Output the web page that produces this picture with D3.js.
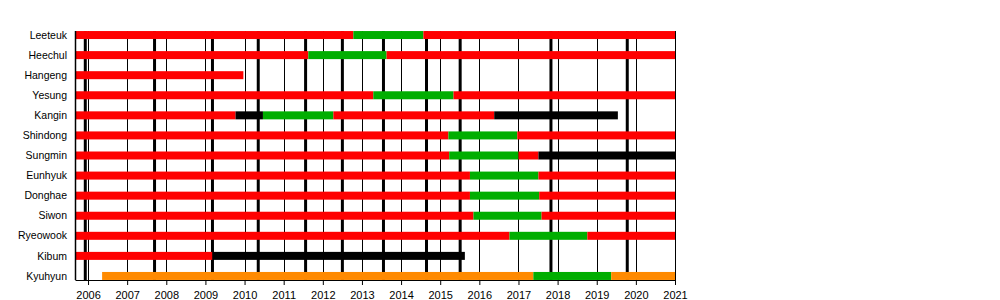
<!DOCTYPE html>
<html>
<head>
<meta charset="utf-8">
<script src="https://d3js.org/d3.v7.min.js"></script>
<style>
  body { margin: 0; background: #fff; }
  svg { font-family: "Liberation Sans", Arial, sans-serif; }
</style>
</head>
<body>
<svg id="chart"></svg>
<script>
// members, top to bottom
var members = ["Leeteuk", "Heechul", "Hangeng", "Yesung", "Kangin", "Shindong", "Sungmin",
  "Eunhyuk", "Donghae", "Siwon", "Ryeowook", "Kibum", "Kyuhyun"];

// activity periods in decimal years: [member, start, end, status]
var periods = [
  ["Leeteuk", 2005.68, 2012.78, "active"], ["Leeteuk", 2012.78, 2014.57, "service"], ["Leeteuk", 2014.57, 2021, "active"],
  ["Heechul", 2005.68, 2011.63, "active"], ["Heechul", 2011.63, 2013.63, "service"], ["Heechul", 2013.63, 2021, "active"],
  ["Hangeng", 2005.68, 2009.97, "active"],
  ["Yesung", 2005.68, 2013.29, "active"], ["Yesung", 2013.29, 2015.34, "service"], ["Yesung", 2015.34, 2021, "active"],
  ["Kangin", 2005.68, 2009.77, "active"], ["Kangin", 2009.77, 2010.47, "hiatus"], ["Kangin", 2010.47, 2012.27, "service"],
  ["Kangin", 2012.27, 2016.38, "active"], ["Kangin", 2016.38, 2019.54, "hiatus"],
  ["Shindong", 2005.68, 2015.21, "active"], ["Shindong", 2015.21, 2016.97, "service"], ["Shindong", 2016.97, 2021, "active"],
  ["Sungmin", 2005.68, 2015.23, "active"], ["Sungmin", 2015.23, 2017.0, "service"], ["Sungmin", 2017.0, 2017.51, "active"],
  ["Sungmin", 2017.51, 2021, "hiatus"],
  ["Eunhyuk", 2005.68, 2015.76, "active"], ["Eunhyuk", 2015.76, 2017.51, "service"], ["Eunhyuk", 2017.51, 2021, "active"],
  ["Donghae", 2005.68, 2015.76, "active"], ["Donghae", 2015.76, 2017.53, "service"], ["Donghae", 2017.53, 2021, "active"],
  ["Siwon", 2005.68, 2015.85, "active"], ["Siwon", 2015.85, 2017.59, "service"], ["Siwon", 2017.59, 2021, "active"],
  ["Ryeowook", 2005.68, 2016.77, "active"], ["Ryeowook", 2016.77, 2018.76, "service"], ["Ryeowook", 2018.76, 2021, "active"],
  ["Kibum", 2005.68, 2009.18, "active"], ["Kibum", 2009.18, 2015.63, "hiatus"],
  ["Kyuhyun", 2006.36, 2017.38, "added"], ["Kyuhyun", 2017.38, 2019.37, "service"], ["Kyuhyun", 2019.37, 2021, "added"]
];

// studio album releases
var albums = [2005.93, 2007.70, 2009.18, 2010.35, 2011.56, 2012.50, 2013.55, 2014.65, 2015.51, 2017.83, 2019.78];

var years = d3.range(2006, 2022);

var statusColor = {
  active: "#ff0000",
  service: "#00ae00",
  hiatus: "#000000",
  added: "#ff8a00"
};

var width = 1000, height = 300;
var mLeft = 75.5, mRight = 675, mTop = 31, mBottom = 280;

var svg = d3.select("#chart").attr("width", width).attr("height", height);

var x = d3.scaleLinear().domain([2005.68, 2021]).range([mLeft, mRight]);
var y = d3.scaleBand().domain(members).range([25, 286]);
var barH = 8;

// year gridlines
svg.append("g").selectAll("line").data(years).enter().append("line")
  .attr("x1", d => Math.round(x(d)) + 0.5).attr("x2", d => Math.round(x(d)) + 0.5)
  .attr("y1", mTop).attr("y2", mBottom)
  .style("stroke", "#000").style("stroke-width", 1);

// album lines
svg.append("g").selectAll("line").data(albums).enter().append("line")
  .attr("x1", d => x(d)).attr("x2", d => x(d))
  .attr("y1", mTop).attr("y2", mBottom)
  .style("stroke", "#000").style("stroke-width", 3);

// bars
svg.append("g").selectAll("rect").data(periods).enter().append("rect")
  .attr("x", d => x(d[1]))
  .attr("width", d => x(d[2]) - x(d[1]))
  .attr("y", d => y(d[0]) + y.bandwidth() / 2 - barH / 2)
  .attr("height", barH)
  .style("fill", d => statusColor[d[3]]);

// left border
svg.append("line")
  .attr("x1", mLeft).attr("x2", mLeft).attr("y1", mTop).attr("y2", mBottom)
  .style("stroke", "#000").style("stroke-width", 1.5);

// member labels
svg.append("g").selectAll("text").data(members).enter().append("text")
  .attr("x", 67)
  .attr("y", d => y(d) + y.bandwidth() / 2)
  .attr("dy", "0.35em")
  .attr("text-anchor", "end")
  .style("font-size", "10.5px")
  .text(d => d);

// x axis
var xAxis = d3.axisBottom(x).tickValues(years).tickFormat(d3.format("d")).tickSize(5).tickSizeOuter(0);
var gx = svg.append("g").attr("transform", "translate(0," + mBottom + ")").call(xAxis);
gx.select(".domain").attr("d", "M" + mLeft + ",0.5H" + mRight);
gx.selectAll("text").style("font-size", "11px").style("font-family", "Liberation Sans, Arial, sans-serif")
  .attr("fill", "#000").attr("y", 11);
gx.selectAll("line").style("stroke", "#000");
</script>
</body>
</html>
